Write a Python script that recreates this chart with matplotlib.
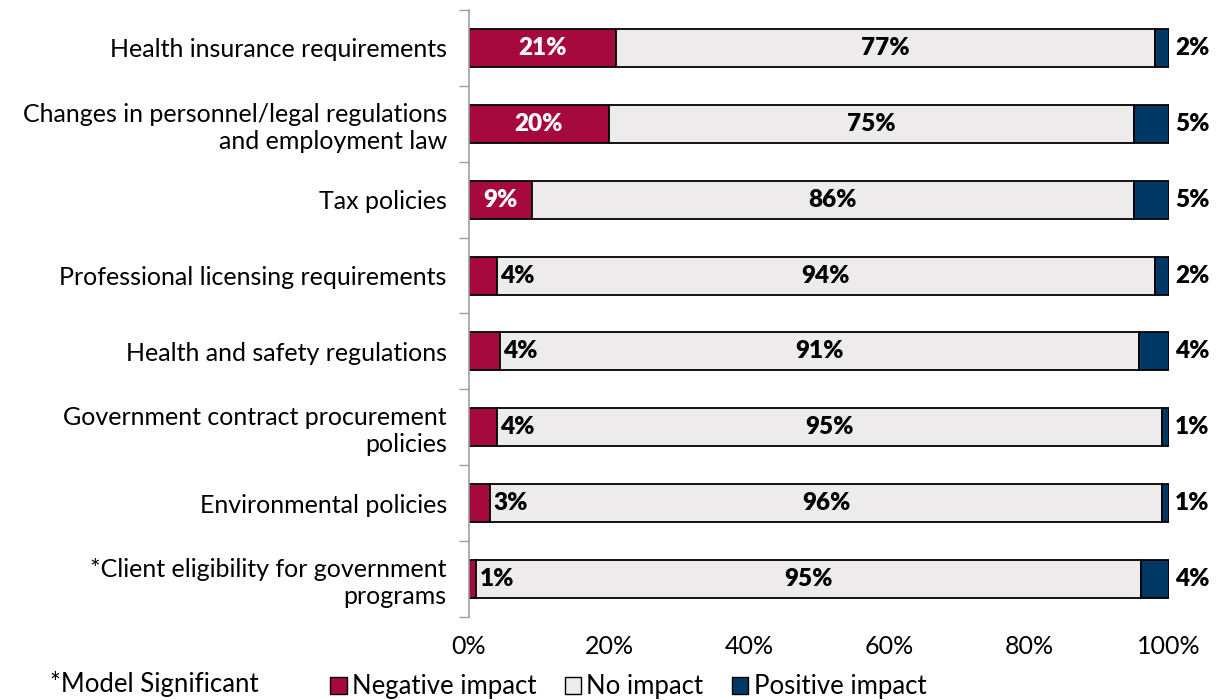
import numpy as np
import matplotlib.pyplot as plt
from matplotlib.patches import Patch

plt.rcParams['font.family'] = ['Lato', 'DejaVu Sans']

categories = [
    "Health insurance requirements",
    "Changes in personnel/legal regulations\nand employment law",
    "Tax policies",
    "Professional licensing requirements",
    "Health and safety regulations",
    "Government contract procurement\npolicies",
    "Environmental policies",
    "*Client eligibility for government\nprograms",
]
# shares in percent (labels shown rounded)
negative = [21, 20, 9, 4, 4.4, 4, 3, 1]
no_impact = [77, 75, 86, 94, 91.3, 95, 96, 95]
positive = [2, 5, 5, 2, 4.3, 1, 1, 4]

red = '#A6093D'
grey = '#EDEBEB'
navy = '#003865'

fig = plt.figure(figsize=(12.22, 7), dpi=100)
ax = fig.add_axes([0.3838, 0.1186, 0.5728, 0.8671])

y = np.arange(len(categories))
h = 0.5
neg = np.array(negative)
mid = np.array(no_impact)
pos = np.array(positive)

ax.barh(y, neg, height=h, color=red, edgecolor='black', linewidth=1.3)
ax.barh(y, mid, left=neg, height=h, color=grey, edgecolor='black', linewidth=1.3)
ax.barh(y, pos, left=neg + mid, height=h, color=navy, edgecolor='black', linewidth=1.3)

fs = 17.5
for i in range(len(categories)):
    if neg[i] >= 9:
        ax.text(neg[i] / 2, y[i], f"{neg[i]:.0f}%", ha='center', va='center',
                color='white', fontsize=fs, fontweight='heavy')
    else:
        ax.text(neg[i] + 0.5, y[i], f"{neg[i]:.0f}%", ha='left', va='center',
                color='black', fontsize=fs, fontweight='heavy')
    ax.text(neg[i] + mid[i] / 2, y[i], f"{mid[i]:.0f}%", ha='center', va='center',
            color='black', fontsize=fs, fontweight='heavy')
    ax.text(neg[i] + mid[i] + pos[i] + 0.9, y[i], f"{pos[i]:.0f}%", ha='left', va='center',
            color='black', fontsize=fs, fontweight='heavy')

ax.set_xlim(0, 100)
ax.set_ylim(len(categories) - 0.5, -0.5)
ax.set_yticks(y)
ax.set_yticklabels(categories, fontsize=18, ha='right', multialignment='right')
ax.set_yticks(np.arange(-0.5, len(categories)), minor=True)
ax.tick_params(axis='y', which='major', length=0, pad=16)
ax.tick_params(axis='y', which='minor', length=7, color='#A0A0A0', width=1)
ax.set_xticks(np.arange(0, 101, 20))
ax.set_xticklabels([f"{v}%" for v in range(0, 101, 20)], fontsize=18)
ax.tick_params(axis='x', length=0, pad=13)

for s in ['top', 'right', 'bottom']:
    ax.spines[s].set_visible(False)
ax.spines['left'].set_color('#A0A0A0')
ax.spines['left'].set_linewidth(1.2)

handles = [Patch(facecolor=red, edgecolor='black', label='Negative impact'),
           Patch(facecolor=grey, edgecolor='black', label='No impact'),
           Patch(facecolor=navy, edgecolor='black', label='Positive impact')]
fig.legend(handles=handles, loc='center', bbox_to_anchor=(0.514, 0.019), ncol=3,
           frameon=False, fontsize=18.5, handlelength=0.65, handleheight=0.65,
           handletextpad=0.2, columnspacing=1.1, borderpad=0)

fig.text(0.041, 0.004, "*Model Significant", fontsize=18.5, va='bottom', ha='left')

fig.savefig('out.png', dpi=100)
